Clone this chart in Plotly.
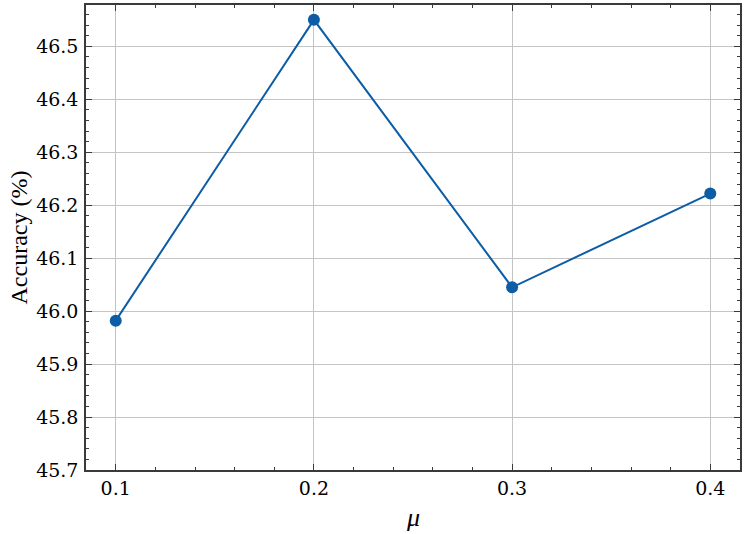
import plotly.graph_objects as go

mu = [0.1, 0.2, 0.3, 0.4]
accuracy = [45.982, 46.550, 46.045, 46.222]

font = "Liberation Serif, serif"
tick_font = "DejaVu Serif"
axis_col = "#3a3a3a"
grid_col = "#c4c4c4"

fig = go.Figure(
    data=[go.Scatter(x=mu, y=accuracy, mode="lines+markers",
                     line=dict(color="#0C5DA5", width=2),
                     marker=dict(color="#0C5DA5", size=12))]
)

common = dict(showline=True, linecolor=axis_col, linewidth=1.5, mirror="ticks",
              ticks="inside", ticklen=6, tickwidth=1.2, tickcolor=axis_col,
              showgrid=True, gridcolor=grid_col, gridwidth=1.2, zeroline=False,
              automargin=False,
              tickfont=dict(family=tick_font, size=19, color="black"))

fig.update_xaxes(range=[0.085, 0.415], tick0=0.1, dtick=0.1, tickformat=".1f",
                 minor=dict(ticks="inside", ticklen=3, tickcolor=axis_col, tick0=0.1, dtick=0.02, showgrid=False),
                 ticklabelstandoff=0, **common)
fig.update_yaxes(range=[45.7, 46.578], tick0=45.7, dtick=0.1, tickformat=".1f",
                 minor=dict(ticks="inside", ticklen=3, tickcolor=axis_col, tick0=45.7, dtick=0.02, showgrid=False),
                 ticklabelstandoff=2, **common)

# axis titles placed as annotations (pixel offsets converted to paper units)
fig.add_annotation(text="<i>μ</i>", x=0.5, y=-(517 - 470) / 465, xref="paper", yref="paper",
                   yanchor="middle", showarrow=False, font=dict(family=font, size=26, color="black"))
fig.add_annotation(text="Accuracy (%)", x=-(86 - 18) / 654, y=0.5, xref="paper", yref="paper",
                   xanchor="center", showarrow=False, textangle=-90,
                   font=dict(family=font, size=24, color="black"))

fig.update_layout(width=747, height=534, showlegend=False,
                  font=dict(family=font, color="black"),
                  plot_bgcolor="white", paper_bgcolor="white",
                  margin=dict(l=86, r=7, t=5, b=64))

fig.write_html("out.html", config={"displayModeBar": False},
               post_script="document.body.style.margin='0';")
